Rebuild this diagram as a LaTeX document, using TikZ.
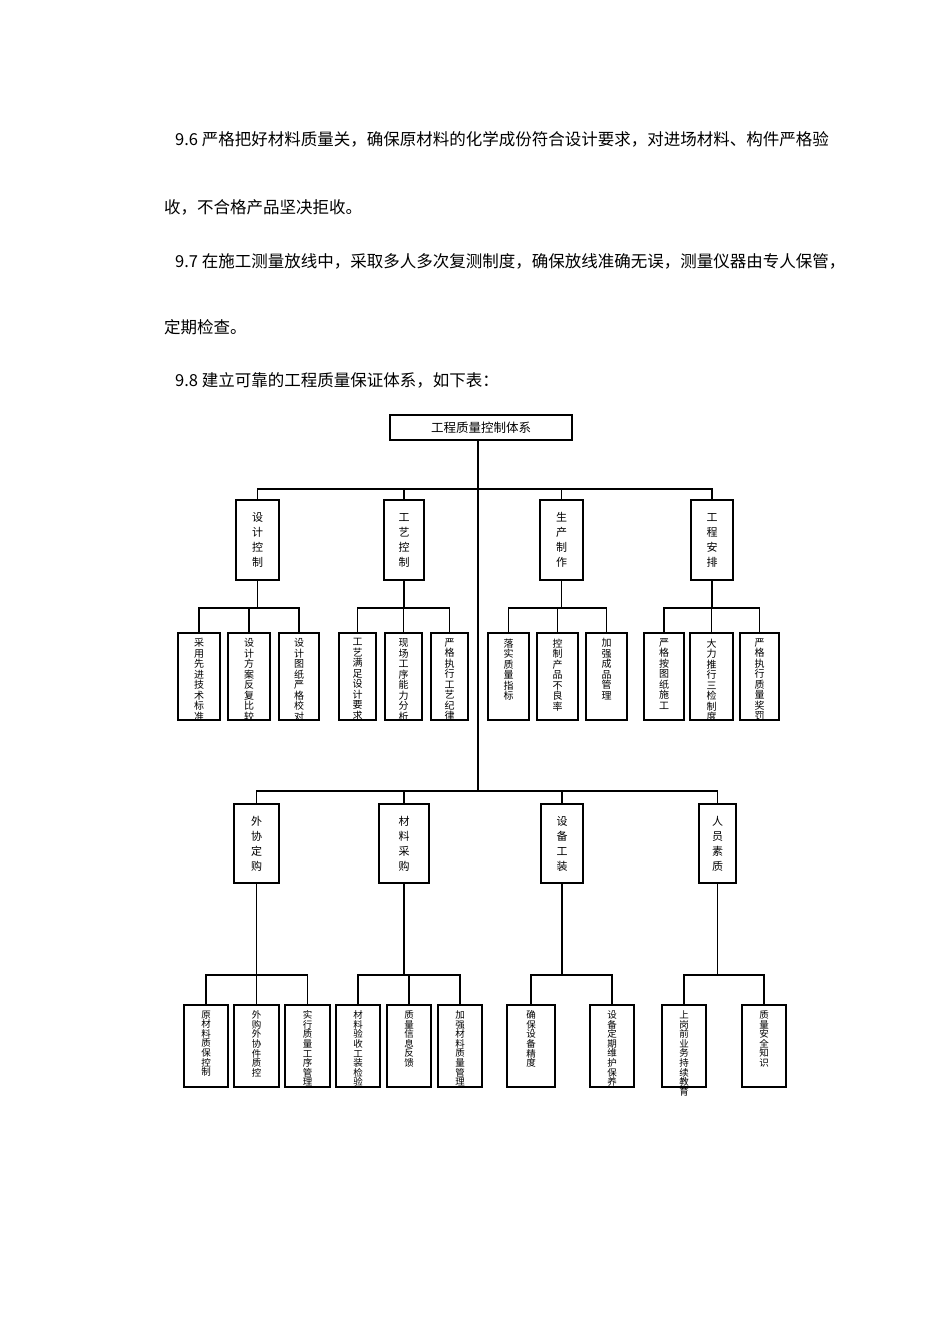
\documentclass[tikz,border=0pt]{standalone}
\usepackage{fontspec}
\setmainfont{Noto Sans CJK SC}
\XeTeXlinebreaklocale "zh"
\XeTeXlinebreakskip=0pt plus 1pt
\tikzset{
 bx/.style={draw,line width=1.1pt,inner sep=0pt},
 vt/.style={font=\fontsize{10}{10.5}\selectfont,text width=11pt,align=center,inner sep=0pt,anchor=north},
 vb/.style={font=\fontsize{9.5}{9.6}\selectfont},
 vm/.style={font=\fontsize{11}{15}\selectfont,text width=12pt,align=center,inner sep=0pt},
 ln/.style={line width=1.1pt},
 para/.style={font=\fontsize{16.5}{18}\selectfont,anchor=west,inner sep=0pt}
}
% name, x1, x2, y1, y2
\newcommand\mybox[5]{\node[bx,minimum width={(#3-#2)*1pt},minimum height={(#5-#4)*1pt}] (#1) at ({(#2+#3)/2},{(#4+#5)/2}) {};}
\newcommand\leafbox[7][]{\mybox{#2}{#3}{#4}{#5}{#6}\node[vt,#1] (#2t) at ([yshift=-6pt]#2.north) {#7};}
\newcommand\midbox[6]{\mybox{#1}{#2}{#3}{#4}{#5}\node[vm] (#1t) at (#1.center) {#6};}
\begin{document}
\begin{tikzpicture}[x=1pt,y=-1pt]
\useasboundingbox (0,0) rectangle (950,1344);
\node[para] (p1) at (175,139) {9.6 严格把好材料质量关，确保原材料的化学成份符合设计要求，对进场材料、构件严格验};
\node[para] (p2) at (164,207) {收，不合格产品坚决拒收。};
\node[para] (p3) at (175,261) {9.7 在施工测量放线中，采取多人多次复测制度，确保放线准确无误，测量仪器由专人保管，};
\node[para] (p4) at (164,327) {定期检查。};
\node[para] (p5) at (175,380) {9.8 建立可靠的工程质量保证体系，如下表：};
\mybox{top}{390}{572}{415}{440}
\node[font=\fontsize{12.5}{14}\selectfont] (toptext) at (top) {工程质量控制体系};
\midbox{a}{236}{279}{500}{580}{设计控制}
\midbox{b}{384}{424}{500}{580}{工艺控制}
\midbox{c}{540}{583}{500}{580}{生产制作}
\midbox{d}{691}{733}{500}{580}{工程安排}
\leafbox{a1}{178}{220}{633}{720}{采用先进技术标准}
\leafbox{a2}{228}{270}{633}{720}{设计方案反复比较}
\leafbox{a3}{279}{319}{633}{720}{设计图纸严格校对}
\leafbox{b1}{339}{376}{633}{720}{工艺满足设计要求}
\leafbox{b2}{385}{422}{633}{720}{现场工序能力分析}
\leafbox{b3}{431}{468}{633}{720}{严格执行工艺纪律}
\leafbox{c1}{488}{529}{633}{720}{落实质量指标}
\leafbox{c2}{537}{578}{633}{720}{控制产品不良率}
\leafbox{c3}{586}{627}{633}{720}{加强成品管理}
\leafbox{d1}{644}{684}{633}{720}{严格按图纸施工}
\leafbox{d2}{690}{733}{633}{720}{大力推行三检制度}
\leafbox{d3}{740}{779}{633}{720}{严格执行质量奖罚}
\midbox{e}{234}{279}{804}{883}{外协定购}
\midbox{f}{379}{429}{804}{883}{材料采购}
\midbox{g}{541}{583}{804}{883}{设备工装}
\midbox{h}{699}{736}{804}{883}{人员素质}
\leafbox[vb]{e1}{184}{228}{1005}{1087}{原材料质保控制}
\leafbox[vb]{e2}{234}{279}{1005}{1087}{外购外协件质控}
\leafbox[vb]{e3}{285}{330}{1005}{1087}{实行质量工序管理}
\leafbox[vb]{f1}{336}{380}{1005}{1087}{材料验收工装检验}
\leafbox[vb]{f2}{387}{431}{1005}{1087}{质量信息反馈}
\leafbox[vb]{f3}{438}{482}{1005}{1087}{加强材料质量管理}
\leafbox[vb]{g1}{507}{555}{1005}{1087}{确保设备精度}
\leafbox[vb]{g2}{590}{634}{1005}{1087}{设备定期维护保养}
\leafbox[vb]{h1}{662}{706}{1005}{1087}{上岗前业务持续教育}
\leafbox[vb]{h2}{742}{786}{1005}{1087}{质量安全知识}
\coordinate (bus1) at (478,489);
\coordinate (bus2) at (478,791);
\draw[ln] (bus1 |- top.south) -- (bus2);
\draw[ln] (a.north) |- (d.north |- bus1) -- (d.north);
\draw[ln] (b.north) -- (b.north |- bus1) (c.north) -- (c.north |- bus1);
\draw[ln] (e.north) |- (h.north |- bus2) -- (h.north);
\draw[ln] (f.north) -- (f.north |- bus2) (g.north) -- (g.north |- bus2);
\foreach \p/\l/\m/\r in {a/a1/a2/a3,b/b1/b2/b3,c/c1/c2/c3,d/d1/d2/d3}{
 \draw[ln] (\p.south) -- (\p.south |- 0,608);
 \draw[ln] (\l.north) |- (\r.north |- 0,608) -- (\r.north);
 \draw[ln] (\m.north) -- (\m.north |- 0,608);
}
\foreach \p/\l/\m/\r in {e/e1/e2/e3,f/f1/f2/f3}{
 \draw[ln] (\p.south) -- (\p.south |- 0,975);
 \draw[ln] (\l.north) |- (\r.north |- 0,975) -- (\r.north);
 \draw[ln] (\m.north) -- (\m.north |- 0,975);
}
\foreach \p/\l/\r in {g/g1/g2,h/h1/h2}{
 \draw[ln] (\p.south) -- (\p.south |- 0,975);
 \draw[ln] (\l.north) |- (\r.north |- 0,975) -- (\r.north);
}
\end{tikzpicture}
\end{document}
